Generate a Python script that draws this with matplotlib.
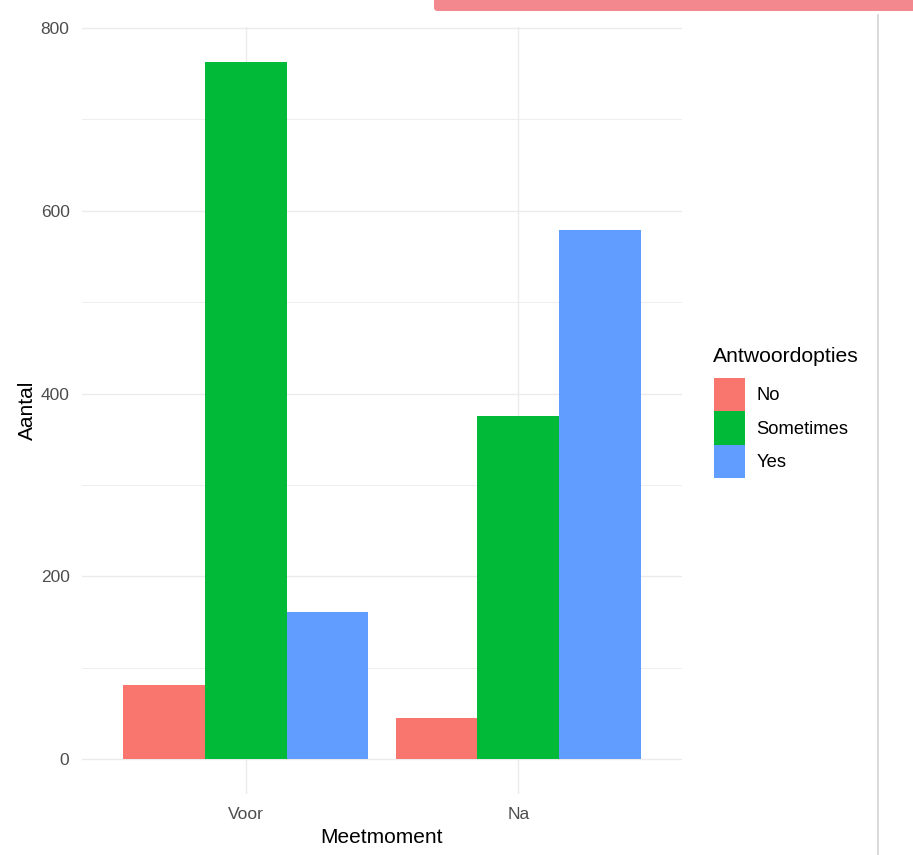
import matplotlib.pyplot as plt
from matplotlib.patches import FancyBboxPatch, Patch
from matplotlib.lines import Line2D
import numpy as np

plt.rcParams['font.family'] = ['Liberation Sans', 'DejaVu Sans']

# data
meetmoment = ['Voor', 'Na']
antwoorden = ['No', 'Sometimes', 'Yes']
aantal = {
    'No': [81, 45],
    'Sometimes': [763, 376],
    'Yes': [161, 579],
}
kleuren = ['#F8766D', '#00BA38', '#619CFF']

fig = plt.figure(figsize=(9.13, 8.55), dpi=100)
W, H = 913, 855
ax = fig.add_axes([82 / W, 1 - 794 / H, 600 / W, (794 - 27) / H])

x = np.arange(1, len(meetmoment) + 1)
breedte = 0.9 / len(antwoorden)
for i, naam in enumerate(antwoorden):
    offset = (i - 1) * breedte
    ax.bar(x + offset, aantal[naam], width=breedte, color=kleuren[i],
           label=naam, zorder=2, linewidth=0)

# ggplot-style expansion
top = max(max(v) for v in aantal.values())
ax.set_xlim(0.4, len(meetmoment) + 0.6)
ax.set_ylim(-0.05 * top, top * 1.05)

ax.set_xticks(x)
ax.set_xticklabels(meetmoment)
ax.set_yticks([0, 200, 400, 600, 800])
ax.set_yticks([100, 300, 500, 700], minor=True)
ax.tick_params(axis='both', which='both', length=0, labelsize=12.5,
               labelcolor='#4D4D4D')
ax.tick_params(axis='y', pad=9)
ax.tick_params(axis='x', pad=9)
ax.grid(True, which='major', color='#EBEBEB', linewidth=1.0, zorder=0)
ax.grid(True, which='minor', axis='y', color='#EBEBEB', linewidth=0.6, zorder=0)
for s in ax.spines.values():
    s.set_visible(False)

ax.set_xlabel('Meetmoment', fontsize=15, labelpad=4.5)
ax.set_ylabel('Aantal', fontsize=15, labelpad=3)

# legend: title as separate text, keys stacked without gaps
fig.text(713 / W, 1 - 357 / H, 'Antwoordopties', fontsize=15.2,
         ha='left', va='center')
handles = [Patch(facecolor=k, edgecolor='none') for k in kleuren]
leg = fig.legend(handles, antwoorden,
                 loc='upper left', bbox_to_anchor=(714 / W, 1 - 378 / H),
                 frameon=False, fontsize=13.2,
                 handlelength=1.7, handleheight=2.43, labelspacing=0.0,
                 handletextpad=0.6, borderpad=0, borderaxespad=0)

# screenshot edges
fig.add_artist(Line2D([878 / W, 878 / W], [0, 1 - 15 / H],
                      transform=fig.transFigure, color='#D3D3D3', lw=1.2))
fig.add_artist(FancyBboxPatch((434 / W, 1 - 11 / H), 490 / W, 20 / H,
                              boxstyle='round,pad=0,rounding_size=0.004',
                              transform=fig.transFigure, facecolor='#F4888F',
                              edgecolor='none'))

fig.savefig('out.png', dpi=100)
